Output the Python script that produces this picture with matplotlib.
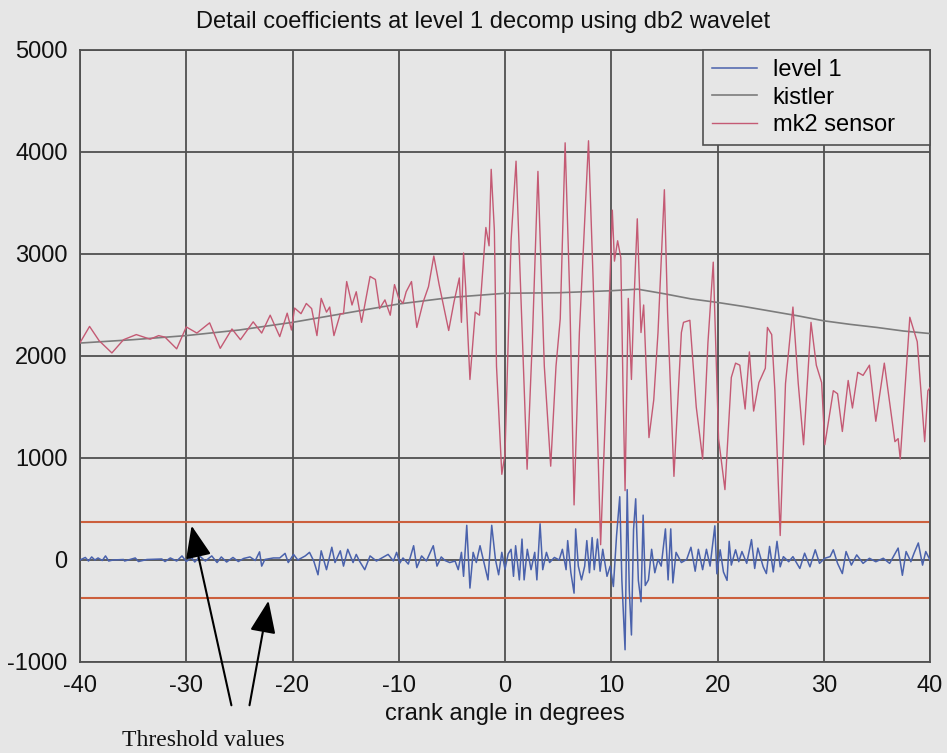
import matplotlib
matplotlib.use("Agg")
import matplotlib.pyplot as plt
from matplotlib.patches import FancyArrowPatch

# ---- data -------------------------------------------------------------
mk2_angle = [
    -40.0, -39.1, -38.2, -37.0, -35.9, -34.7, -33.4, -32.6, -32.0, -30.9,
    -30.0, -29.0, -27.8, -26.8, -25.7, -24.9, -23.7, -22.9, -22.1, -21.2,
    -20.5, -20.1, -19.8, -19.2, -18.7, -18.2, -17.7, -17.3, -16.8, -16.5,
    -16.1, -15.5, -15.2, -14.9, -14.4, -14.0, -13.5, -12.7, -12.2, -11.8,
    -11.3, -10.8, -10.4, -10.0, -9.6, -9.3, -8.8, -8.3, -7.7, -7.2,
    -6.7, -6.2, -5.8, -5.3, -4.8, -4.3, -4.1, -3.9, -3.7, -3.3,
    -2.8, -2.4, -2.1, -1.8, -1.5, -1.3, -1.0, -0.8, -0.3, 0.0,
    0.57, 1.04, 1.5, 2.08, 2.6, 3.1, 3.7, 4.3, 4.8, 5.2,
    5.66, 6.1, 6.5, 7.0, 7.86, 8.3, 9.0, 9.5, 10.1, 10.3,
    10.6, 10.9, 11.1, 11.3, 11.6, 11.9, 12.1, 12.45, 12.8, 13.05,
    13.55, 14.0, 14.4, 15.0, 15.3, 15.9, 16.6, 16.8, 17.4, 18.0,
    18.6, 19.1, 19.6, 20.1, 20.7, 21.3, 21.7, 22.1, 22.6, 23.0,
    23.4, 23.9, 24.5, 24.7, 25.1, 25.4, 25.9, 26.4, 27.1, 27.6,
    28.1, 28.8, 29.3, 29.8, 30.1, 30.9, 31.3, 31.75, 32.3, 32.7,
    33.2, 33.7, 34.3, 34.9, 35.7, 36.7, 37.0, 37.2, 38.1, 38.8,
    39.5, 39.8, 40.0,
]
mk2_value = [
    2130, 2290, 2150, 2030, 2160, 2210, 2165, 2200, 2185, 2070,
    2285, 2225, 2325, 2075, 2265, 2160, 2335, 2225, 2400, 2190,
    2420, 2255, 2470, 2415, 2515, 2465, 2200, 2565, 2430, 2480,
    2200, 2415, 2415, 2730, 2500, 2630, 2330, 2780, 2750, 2465,
    2550, 2400, 2700, 2565, 2515, 2630, 2730, 2280, 2530, 2680,
    2980, 2700, 2500, 2250, 2530, 2765, 2330, 3010, 2665, 1770,
    2430, 2400, 2830, 3260, 3080, 3830, 3230, 1900, 840, 1040,
    3130, 3910, 2565, 890, 2230, 3810, 1900, 920, 1900, 2365,
    4090, 2565, 540, 2230, 4110, 2730, 150, 1570, 3430, 2930,
    3130, 2965, 1735, 680, 2565, 1770, 2430, 3345, 2230, 2500,
    1200, 1570, 2230, 3630, 2430, 820, 2230, 2330, 2350, 1500,
    990, 2130, 2920, 1190, 690, 1790, 1930, 1910, 1480, 2040,
    1460, 1740, 1880, 2280, 2210, 1660, 240, 1730, 2480, 1730,
    1130, 2330, 1910, 1740, 1130, 1660, 1630, 1260, 1760, 1490,
    1840, 1810, 1910, 1360, 1930, 1160, 1190, 990, 2380, 2140,
    1160, 1660, 1690,
]

kistler_angle = [-40, -35, -30, -25, -20, -15, -10, -5, 0, 5, 10, 12.5,
                 15, 17.5, 20, 22.5, 25, 27.5, 30, 32.5, 35, 37.5, 40]
kistler_value = [2127, 2160, 2200, 2255, 2330, 2420, 2510, 2575, 2615, 2620,
                 2640, 2655, 2610, 2560, 2525, 2485, 2440, 2395, 2345, 2310,
                 2280, 2245, 2220]

level1_angle = [
    -40.0, -39.5, -39.2, -38.9, -38.6, -38.3, -37.9, -37.6, -37.3, -36.9,
    -35.9, -35.8, -34.8, -34.5, -33.7, -32.3, -32.0, -31.5, -30.9, -30.4,
    -30.0, -29.5, -29.2, -28.7, -28.2, -27.6, -27.1, -26.7, -26.2, -25.6,
    -25.1, -24.6, -24.0, -23.5, -23.1, -22.9, -22.6, -21.8, -21.2, -20.7,
    -20.4, -19.9, -19.5, -18.8, -18.4, -18.0, -17.6, -17.3, -17.0, -16.8,
    -16.3, -16.0, -15.5, -15.2, -14.8, -14.3, -14.0, -13.7, -13.2, -12.7,
    -12.1, -11.5, -11.0, -10.5, -10.2, -9.9, -9.6, -9.1, -8.6, -8.3,
    -7.85, -7.4, -6.75, -6.4, -6.0, -5.65, -5.2, -4.7, -4.4, -4.1,
    -3.9, -3.6, -3.3, -3.0, -2.7, -2.35, -1.9, -1.6, -1.25, -0.9,
    -0.6, -0.3, 0.0, 0.3, 0.57, 0.8, 1.0, 1.35, 1.6, 1.8,
    2.1, 2.45, 2.8, 3.0, 3.3, 3.55, 3.9, 4.2, 4.65, 5.1,
    5.4, 5.75, 5.9, 6.2, 6.5, 6.65, 6.9, 7.2, 7.5, 7.7,
    7.95, 8.2, 8.4, 8.7, 8.95, 9.2, 9.6, 9.9, 10.2, 10.5,
    10.8, 11.0, 11.3, 11.5, 11.7, 11.9, 12.1, 12.3, 12.55, 12.8,
    13.0, 13.2, 13.5, 13.8, 14.1, 14.4, 14.7, 15.1, 15.35, 15.6,
    15.8, 16.1, 16.6, 17.1, 17.5, 17.9, 18.2, 18.6, 18.96, 19.3,
    19.75, 19.94, 20.25, 20.56, 20.9, 21.1, 21.3, 21.7, 22.0, 22.3,
    22.75, 23.2, 23.5, 23.8, 24.3, 24.6, 24.9, 25.25, 25.6, 25.9,
    26.2, 26.7, 27.1, 27.75, 28.2, 28.7, 29.2, 29.6, 30.1, 30.6,
    30.9, 31.3, 31.75, 32.1, 32.6, 33.1, 33.7, 34.3, 34.9, 35.6,
    36.2, 37.0, 37.4, 37.75, 38.2, 38.5, 38.9, 39.3, 39.6, 40.0,
]
level1_value = [
    0, 25, -10, 30, 0, 20, -5, 40, -10, 0,
    5, -10, 20, -15, 5, 10, -15, 20, -10, 40,
    -15, 25, -20, 35, -10, 40, -25, 30, -20, 25,
    -15, 15, 30, -5, 80, -60, 5, 20, 20, 65,
    -25, 55, 0, 40, 75, -10, -145, 90, -20, -95,
    125, -25, 90, -60, 105, -25, 55, -10, -95, 40,
    -10, 25, 55, -10, 75, -30, 20, -40, 140, -75,
    40, -10, 140, -60, 30, -5, -25, -10, -95, 75,
    -160, 340, -275, 75, -25, 140, -60, -195, 340, 5,
    -145, 75, -90, 60, 105, -160, 140, -195, 205, -195,
    105, -95, 75, -195, 355, -95, 75, -25, 25, 0,
    105, -95, 190, -125, -325, 305, -60, -195, -60, 190,
    -125, 220, -95, 205, -110, 105, -160, -60, -260, 240,
    620, -200, -880, 690, -300, -735, 300, 600, -200, -410,
    440, -250, -195, 105, -125, 5, -60, 305, -195, 305,
    -225, 75, -25, 5, 125, -110, 105, -95, 105, -60,
    335, -135, 100, -117, -200, 183, -50, 100, -17, 83,
    -33, 200, -83, 117, -67, -133, 133, -117, 183, -67,
    33, -17, 33, -83, 67, -67, 100, -33, 17, 33,
    100, -33, -133, 83, -50, 50, -33, 17, -17, 17,
    -33, 117, -150, 83, -17, 67, 167, -50, 83, 0,
]

thresholds = [370, -370]

x_ticks = [-40, -30, -20, -10, 0, 10, 20, 30, 40]
y_ticks = [-1000, 0, 1000, 2000, 3000, 4000, 5000]

# ---- styling ------------------------------------------------------------
BG = "#e6e6e6"
GRID = "#505050"
TXT = "#111111"
plt.rcParams["font.family"] = ["Liberation Sans", "DejaVu Sans"]

fig = plt.figure(figsize=(9.47, 7.53), dpi=100, facecolor=BG)
ax = fig.add_axes([80 / 947, 1 - 662 / 753, 850 / 947, 612 / 753])
ax.set_facecolor(BG)

ax.plot(level1_angle, level1_value, color="#4a62ac", lw=1.1, label="level 1", zorder=3)
ax.plot(kistler_angle, kistler_value, color="#7c7c7c", lw=1.2, label="kistler", zorder=4)
ax.plot(mk2_angle, mk2_value, color="#c45a74", lw=1.0, label="mk2 sensor", zorder=5)
for t in thresholds:
    ax.axhline(t, color="#cc5f3c", lw=1.5, zorder=2)

ax.set_xlim(-40, 40)
ax.set_ylim(-1000, 5000)
ax.set_xticks(x_ticks)
ax.set_yticks(y_ticks)
ax.set_xticklabels([str(v) for v in x_ticks])
ax.set_yticklabels([str(v) for v in y_ticks])
ax.tick_params(length=0, labelsize=17, pad=9, colors=TXT)
ax.grid(True, color=GRID, lw=1.3, zorder=1)
ax.set_axisbelow(True)
for s in ax.spines.values():
    s.set_color(GRID)
    s.set_linewidth(1.3)

ax.set_xlabel("crank angle in degrees", fontsize=17, labelpad=5, color=TXT)
fig.text(0.5 + 10 / 947, 1 - 22 / 753,
         "Detail coefficients at level 1 decomp using db2 wavelet",
         ha="center", va="center", fontsize=17, color=TXT)

# legend box pinned to the upper-right corner, 227 px wide
leg_w = 227 / 850
leg_h = 93 / 612
leg = ax.legend(loc="upper right", bbox_to_anchor=(1 - leg_w, 1 - leg_h, leg_w, leg_h),
                mode="expand", borderaxespad=0,
                fontsize=17, frameon=True, fancybox=False, handlelength=1.9,
                labelspacing=0.22, borderpad=0.4, handletextpad=0.65)
leg.get_frame().set_facecolor(BG)
leg.get_frame().set_edgecolor(GRID)
leg.get_frame().set_linewidth(1.2)
leg.get_frame().set_alpha(1)

# annotation for the threshold lines (figure pixel positions)
W, H = 947, 753
def fp(x, y):
    return (x / W, 1 - y / H)

for start, end in [((232, 708), (191, 523)), ((249, 708), (269, 598))]:
    arr = FancyArrowPatch(fp(*start), fp(*end), transform=fig.transFigure,
                          arrowstyle="-|>,head_length=1.0,head_width=0.4",
                          mutation_scale=20, lw=1.5, color="black")
    fig.add_artist(arr)

fig.text(122 / W, 1 - 740 / H, "Threshold values", family="Liberation Serif",
         fontsize=17, ha="left", va="center", color=TXT)

fig.savefig("out.png", dpi=100, facecolor=BG)
